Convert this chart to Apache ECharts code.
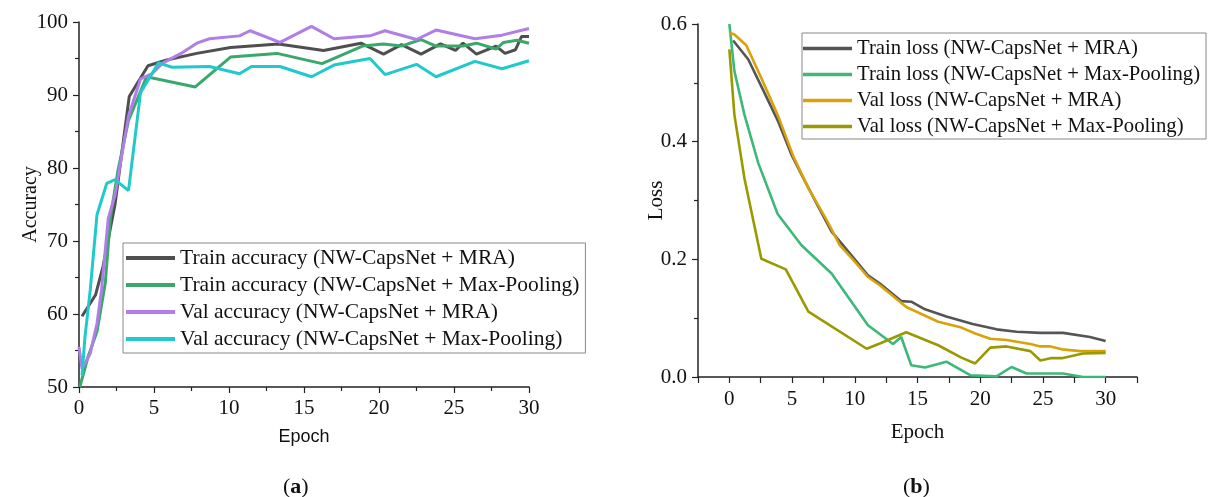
<!DOCTYPE html>
<html>
<head>
<meta charset="utf-8">
<script src="https://cdn.jsdelivr.net/npm/echarts@6/dist/echarts.min.js"></script>
<style>
  html, body { margin: 0; padding: 0; background: #fff; }
  #chart { width: 1209px; height: 497px; }
</style>
</head>
<body>
<div id="chart"></div>
<script>
// (a) accuracy curves, [epoch, accuracy %]
const trainAccMra = [[0.2,59.7],[1.1,62.6],[1.6,66.5],[2.4,75],[3.35,89.8],[4.6,94.0],[5.85,94.8],[7.85,95.7],[10.1,96.5],[13.3,97.0],[16.3,96.1],[18.8,97.1],[20.3,95.6],[21.5,96.9],[22.8,95.6],[24.1,97.0],[25.1,96.1],[25.6,97.1],[26.5,95.6],[27.8,96.7],[28.4,95.7],[29.1,96.2],[29.5,98.0],[30,98.0]];
const trainAccMp = [[0.05,50],[0.6,54.1],[1.2,57.6],[1.75,64.2],[2.1,73.3],[2.6,79.7],[3.3,86.5],[4.5,92.5],[7.75,91.1],[10.1,95.2],[13.2,95.7],[16.2,94.3],[18.9,96.7],[20.3,97.0],[21.5,96.7],[22.8,97.6],[23.8,96.7],[25.6,96.7],[26.5,97.1],[27.8,96.3],[28.3,97.2],[29.2,97.5],[30,97.1]];
const valAccMra = [[0,55.5],[0.2,52.5],[0.75,54.6],[1.2,58.7],[1.5,63.3],[1.95,73.1],[2.4,76.3],[3.3,87.1],[4.1,92.2],[4.85,92.9],[5.6,94.4],[6.8,95.7],[7.85,97.1],[8.7,97.7],[10.7,98.1],[11.4,98.8],[13.4,97.2],[15.5,99.4],[17.0,97.7],[19.4,98.1],[20.4,98.8],[22.5,97.6],[23.8,98.9],[26.4,97.7],[28.2,98.2],[30,99.1]];
const valAccMp = [[0.2,51.6],[0.4,56.9],[0.75,63.3],[1.2,73.6],[1.85,77.9],[2.4,78.4],[3.3,76.9],[4.1,90.3],[5.3,94.4],[6.2,93.8],[8.7,93.9],[10.7,92.9],[11.5,93.9],[13.4,93.9],[15.5,92.5],[17.0,94.1],[19.4,95.0],[20.4,92.8],[22.5,94.2],[23.8,92.5],[26.4,94.6],[28.2,93.6],[30,94.7]];

// (b) loss curves, [epoch, loss]
const trainLossMra = [[0.3,0.572],[1.5,0.540],[2.55,0.494],[3.9,0.434],[4.95,0.378],[5.9,0.338],[6.95,0.295],[8.15,0.247],[9.6,0.210],[11.05,0.173],[12.0,0.159],[13.7,0.129],[14.5,0.128],[15.6,0.115],[17.3,0.103],[19.4,0.090],[21.3,0.081],[22.9,0.077],[24.8,0.075],[26.6,0.075],[28.75,0.068],[30,0.061]];
const trainLossMp = [[0,0.600],[0.4,0.520],[1.2,0.446],[2.3,0.364],[3.85,0.277],[5.75,0.224],[8.15,0.176],[11.05,0.088],[13.05,0.056],[13.7,0.068],[14.5,0.020],[15.6,0.016],[17.3,0.026],[19.2,0.003],[21.3,0.001],[22.5,0.017],[23.7,0.006],[26.6,0.006],[28.2,0],[30,0]];
const valLossMra = [[0,0.585],[0.4,0.582],[1.35,0.564],[2.55,0.508],[3.9,0.443],[5.1,0.375],[6.3,0.321],[7.75,0.267],[8.8,0.224],[9.75,0.202],[11.05,0.170],[12.0,0.156],[14.1,0.119],[16.65,0.094],[18.5,0.084],[19.6,0.074],[20.8,0.065],[22.1,0.063],[24.0,0.056],[24.8,0.052],[25.6,0.052],[26.5,0.047],[28.0,0.044],[30,0.044]];
const valLossMp = [[0,0.557],[0.4,0.446],[1.2,0.338],[2.55,0.201],[4.5,0.183],[6.3,0.111],[10.95,0.048],[12.0,0.057],[14.1,0.076],[16.65,0.054],[18.5,0.033],[19.6,0.023],[20.8,0.050],[22.1,0.052],[24.0,0.044],[24.8,0.028],[25.6,0.032],[26.5,0.032],[28.2,0.040],[30,0.041]];

const accNames = ['Train accuracy (NW-CapsNet + MRA)', 'Train accuracy (NW-CapsNet + Max-Pooling)', 'Val accuracy (NW-CapsNet + MRA)', 'Val accuracy (NW-CapsNet + Max-Pooling)'];
const lossNames = ['Train loss (NW-CapsNet + MRA)', 'Train loss (NW-CapsNet + Max-Pooling)', 'Val loss (NW-CapsNet + MRA)', 'Val loss (NW-CapsNet + Max-Pooling)'];

const serif = 'Liberation Serif';
const ink = '#111';

let myChart = echarts.init(document.getElementById('chart'));

function axisBase() {
    return {
        axisLine: { show: true, onZero: false, lineStyle: { color: '#222', width: 1.5 } },
        axisTick: { show: true, inside: false, length: 6, lineStyle: { color: '#222', width: 1.2 } },
        minorTick: { show: true, splitNumber: 2, length: 4, lineStyle: { color: '#222', width: 1.2 } },
        splitLine: { show: false },
        nameMoveOverlap: false,
        axisLabel: { color: ink, fontFamily: serif, fontSize: 21 }
    };
}

function line(name, data, color, xi, width) {
    return {
        name: name, type: 'line', xAxisIndex: xi, yAxisIndex: xi,
        data: data, symbol: 'none', silent: true,
        lineStyle: { color: color, width: width }, itemStyle: { color: color }
    };
}

let xa = axisBase();
Object.assign(xa, { type: 'value', gridIndex: 0, min: 0, max: 30, interval: 5,
    name: 'Epoch', nameLocation: 'middle', nameGap: 41,
    nameTextStyle: { color: ink, fontFamily: 'Liberation Sans', fontSize: 18 } });
xa.axisLabel = Object.assign({}, xa.axisLabel, { margin: 11 });

let ya = axisBase();
Object.assign(ya, { type: 'value', gridIndex: 0, min: 50, max: 100, interval: 10,
    name: 'Accuracy', nameLocation: 'middle', nameGap: 38,
    nameTextStyle: { color: ink, fontFamily: serif, fontSize: 20 } });
ya.axisLabel = Object.assign({}, ya.axisLabel, { margin: 11 });

let xb = axisBase();
Object.assign(xb, { type: 'value', gridIndex: 1, min: -2.5, max: 32.5, interval: 2.5,
    name: 'Epoch', nameLocation: 'middle', nameGap: 45,
    nameTextStyle: { color: ink, fontFamily: serif, fontSize: 21 } });
xb.minorTick = { show: false };
xb.axisLabel = Object.assign({}, xb.axisLabel, { margin: 12, showMinLabel: true, showMaxLabel: true,
    formatter: function (v) { return (v >= 0 && v <= 30 && v % 5 === 0) ? String(v) : ''; } });

let yb = axisBase();
Object.assign(yb, { type: 'value', gridIndex: 1, min: 0, max: 0.6, interval: 0.2,
    name: 'Loss', nameLocation: 'middle', nameGap: 31,
    nameTextStyle: { color: ink, fontFamily: serif, fontSize: 21 } });
yb.axisLabel = Object.assign({}, yb.axisLabel, { margin: 11, formatter: function (v) { return v.toFixed(1); } });

let option = {
    animation: false,
    backgroundColor: '#fff',
    grid: [
        { left: 79, right: 680, top: 22, bottom: 110 },
        { left: 698, right: 72, top: 24, bottom: 120 }
    ],
    xAxis: [xa, xb],
    yAxis: [ya, yb],
    legend: [
        {
            orient: 'vertical', left: 123, top: 243, padding: [4, 6, 3, 3],
            itemWidth: 49, itemHeight: 4, itemGap: 5, icon: 'rect',
            borderColor: '#888', borderWidth: 1, backgroundColor: '#fff',
            selectedMode: false, data: accNames,
            textStyle: { color: ink, fontFamily: serif, fontSize: 21.5 }
        },
        {
            orient: 'vertical', left: 802, top: 33, padding: [5, 6, 2, 1],
            itemWidth: 49, itemHeight: 3.5, itemGap: 5, icon: 'rect',
            borderColor: '#888', borderWidth: 1, backgroundColor: '#fff',
            selectedMode: false, data: lossNames,
            textStyle: { color: ink, fontFamily: serif, fontSize: 20.7 }
        }
    ],
    series: [
        line(accNames[0], trainAccMra, '#4f4f4f', 0, 3),
        line(accNames[1], trainAccMp, '#3aa86b', 0, 3),
        line(accNames[2], valAccMra, '#b07ee6', 0, 3),
        line(accNames[3], valAccMp, '#1fc9cc', 0, 3),
        line(lossNames[0], trainLossMra, '#555555', 1, 2.6),
        line(lossNames[1], trainLossMp, '#3cb878', 1, 2.6),
        line(lossNames[2], valLossMra, '#d9a10a', 1, 2.6),
        line(lossNames[3], valLossMp, '#999900', 1, 2.6)
    ],
    graphic: [
        { type: 'text', left: 283, top: 476, style: { text: '({b|a})', fill: ink, font: '22px "Liberation Serif"',
            rich: { b: { fontWeight: 'bold', fontFamily: serif, fontSize: 22, fill: ink } } } },
        { type: 'text', left: 903, top: 476, style: { text: '({b|b})', fill: ink, font: '22px "Liberation Serif"',
            rich: { b: { fontWeight: 'bold', fontFamily: serif, fontSize: 22, fill: ink } } } }
    ]
};
myChart.setOption(option);
</script>
</body>
</html>
